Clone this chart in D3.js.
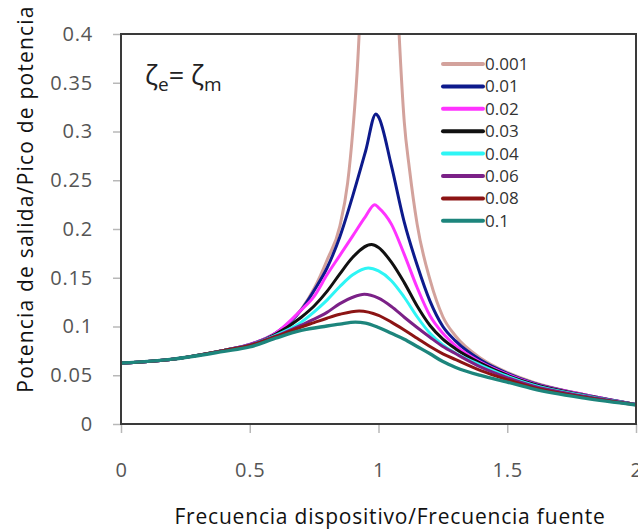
<!DOCTYPE html>
<html>
<head>
<meta charset="utf-8">
<script src="https://cdn.jsdelivr.net/npm/d3@7"></script>
<style>
  body { margin: 0; background: #fff; }
  svg { display: block; }
</style>
</head>
<body>
<div id="chart"></div>
<script>
// damping ratios shown in the legend
const zetas = ["0.001", "0.01", "0.02", "0.03", "0.04", "0.06", "0.08", "0.1"];
const colors = ["#d3a29c", "#0d1a8c", "#ff33ff", "#111111", "#2ef5f5", "#7b2187", "#8c1414", "#1d857c"];

// curves: x = f_device/f_source, y = P/Ppeak
const x0001 = [0, 0.2, 0.4, 0.5, 0.6, 0.7, 0.75, 0.8, 0.85, 0.88, 0.9, 0.92, 0.94, 0.97, 1.0, 1.03, 1.06, 1.08, 1.1, 1.12, 1.15, 1.2, 1.25, 1.3, 1.4, 1.5, 1.6, 1.8, 2.0];
const y0001 = [0.0625, 0.0665, 0.0755, 0.0815, 0.093, 0.1175, 0.139, 0.168, 0.203, 0.247, 0.300, 0.375, 0.50, 0.9, 1.5, 0.9, 0.52, 0.40, 0.310, 0.262, 0.205, 0.148, 0.110, 0.090, 0.067, 0.053, 0.043, 0.030, 0.020];

const x001 = [0, 0.2, 0.4, 0.5, 0.6, 0.7, 0.75, 0.8, 0.85, 0.9, 0.95, 0.99, 1.0, 1.05, 1.1, 1.15, 1.2, 1.25, 1.3, 1.4, 1.5, 1.6, 1.8, 2.0];
const y001 = [0.0625, 0.0665, 0.0755, 0.0815, 0.093, 0.117, 0.137, 0.160, 0.192, 0.234, 0.280, 0.318, 0.315, 0.265, 0.207, 0.163, 0.126, 0.100, 0.085, 0.065, 0.052, 0.042, 0.030, 0.020];

const x002 = [0, 0.2, 0.4, 0.5, 0.6, 0.7, 0.75, 0.8, 0.85, 0.9, 0.95, 0.985, 1.0, 1.05, 1.1, 1.15, 1.2, 1.25, 1.3, 1.4, 1.5, 1.6, 1.8, 2.0];
const y002 = [0.0625, 0.0665, 0.0755, 0.0815, 0.093, 0.117, 0.131, 0.153, 0.173, 0.193, 0.213, 0.225, 0.222, 0.205, 0.174, 0.140, 0.111, 0.093, 0.080, 0.063, 0.051, 0.0415, 0.030, 0.020];

const x003 = [0, 0.2, 0.4, 0.5, 0.6, 0.7, 0.75, 0.8, 0.85, 0.9, 0.973, 1.0, 1.05, 1.1, 1.15, 1.2, 1.25, 1.3, 1.4, 1.5, 1.6, 1.8, 2.0];
const y003 = [0.0625, 0.0665, 0.0755, 0.081, 0.092, 0.1095, 0.121, 0.136, 0.154, 0.171, 0.184, 0.181, 0.166, 0.145, 0.121, 0.101, 0.087, 0.077, 0.062, 0.050, 0.041, 0.0295, 0.020];

const x004 = [0, 0.2, 0.4, 0.5, 0.6, 0.7, 0.75, 0.8, 0.85, 0.9, 0.96, 1.0, 1.05, 1.1, 1.15, 1.2, 1.25, 1.3, 1.4, 1.5, 1.6, 1.8, 2.0];
const y004 = [0.0625, 0.0665, 0.0755, 0.081, 0.091, 0.1045, 0.115, 0.127, 0.141, 0.153, 0.160, 0.157, 0.147, 0.130, 0.110, 0.093, 0.081, 0.0725, 0.060, 0.049, 0.040, 0.029, 0.020];

const x006 = [0, 0.2, 0.4, 0.5, 0.6, 0.7, 0.75, 0.8, 0.85, 0.9, 0.945, 1.0, 1.05, 1.1, 1.15, 1.2, 1.25, 1.3, 1.4, 1.5, 1.6, 1.8, 2.0];
const y006 = [0.0625, 0.0665, 0.0755, 0.081, 0.090, 0.1015, 0.1075, 0.1145, 0.1235, 0.130, 0.133, 0.129, 0.1205, 0.1095, 0.099, 0.089, 0.0795, 0.072, 0.058, 0.0475, 0.039, 0.0285, 0.020];

const x008 = [0, 0.2, 0.4, 0.5, 0.6, 0.7, 0.75, 0.8, 0.85, 0.925, 1.0, 1.05, 1.1, 1.15, 1.2, 1.25, 1.3, 1.4, 1.5, 1.6, 1.8, 2.0];
const y008 = [0.0625, 0.0665, 0.0755, 0.0805, 0.0895, 0.0995, 0.104, 0.1085, 0.1125, 0.116, 0.1115, 0.1045, 0.0965, 0.088, 0.0795, 0.072, 0.066, 0.0545, 0.0455, 0.0375, 0.0275, 0.0197];

const x01 = [0, 0.2, 0.4, 0.5, 0.6, 0.7, 0.8, 0.85, 0.91, 0.95, 1.0, 1.05, 1.1, 1.15, 1.2, 1.25, 1.3, 1.4, 1.5, 1.6, 1.8, 2.0];
const y01 = [0.0625, 0.0665, 0.0745, 0.079, 0.088, 0.096, 0.1005, 0.1025, 0.1045, 0.1035, 0.099, 0.093, 0.087, 0.0795, 0.072, 0.064, 0.058, 0.0495, 0.043, 0.036, 0.0265, 0.0195];

const xTicks = [0, 0.5, 1, 1.5, 2];
const yTicks = [0, 0.05, 0.1, 0.15, 0.2, 0.25, 0.3, 0.35, 0.4];

const seriesX = [x0001, x001, x002, x003, x004, x006, x008, x01];
const seriesY = [y0001, y001, y002, y003, y004, y006, y008, y01];

const width = 638, height = 529;
const margin = { top: 34, right: 2, bottom: 105, left: 121 };

const svg = d3.select("#chart").append("svg")
    .attr("width", width)
    .attr("height", height);

const xScale = d3.scaleLinear()
    .domain([0, 2])
    .range([margin.left, width - margin.right]);

const yScale = d3.scaleLinear()
    .domain([0, 0.4])
    .range([height - margin.bottom, margin.top]);

svg.append("clipPath").attr("id", "plotclip")
    .append("rect")
    .attr("x", margin.left)
    .attr("y", margin.top)
    .attr("width", width - margin.right - margin.left)
    .attr("height", height - margin.bottom - margin.top);

// axes with outside ticks only
const xAxis = svg.append("g")
    .attr("transform", `translate(0,${height - margin.bottom})`)
    .call(d3.axisBottom(xScale).tickValues(xTicks).tickSize(9).tickPadding(30).tickFormat(d3.format("")));

const yAxis = svg.append("g")
    .attr("transform", `translate(${margin.left},0)`)
    .call(d3.axisLeft(yScale).tickValues(yTicks).tickSize(8).tickPadding(20).tickFormat(d3.format("")));

[xAxis, yAxis].forEach(g => {
    g.select(".domain").remove();
    g.selectAll(".tick line").attr("stroke", "#b8b8b8").attr("stroke-width", 1.5);
    g.selectAll(".tick text")
        .attr("fill", "#555")
        .style("font-family", "'Open Sans', sans-serif")
        .style("font-size", "20px")
        .style("letter-spacing", "0.8px");
});

// curves
const line = d3.line()
    .x(d => xScale(d[0]))
    .y(d => yScale(d[1]))
    .curve(d3.curveMonotoneX);

const curves = svg.append("g").attr("clip-path", "url(#plotclip)");
zetas.forEach((z, i) => {
    const pts = seriesX[i].map((x, j) => [x, seriesY[i][j]]);
    curves.append("path")
        .datum(pts)
        .attr("fill", "none")
        .attr("stroke", colors[i])
        .attr("stroke-width", i === 7 ? 3.4 : 3)
        .attr("stroke-linejoin", "round")
        .attr("d", line);
});

// plot frame
svg.append("rect")
    .attr("x", margin.left)
    .attr("y", margin.top)
    .attr("width", width - margin.right - margin.left)
    .attr("height", height - margin.bottom - margin.top)
    .attr("fill", "none")
    .attr("stroke", "#3a3a3a")
    .attr("stroke-width", 2);

// legend
const legend = svg.append("g").attr("transform", "translate(443,64)");
zetas.forEach((z, i) => {
    const row = legend.append("g").attr("transform", `translate(0,${i * 22.4})`);
    row.append("line")
        .attr("x1", 0).attr("x2", 40)
        .attr("stroke", colors[i])
        .attr("stroke-width", 4)
        .attr("stroke-linecap", "round");
    row.append("text")
        .attr("x", 42).attr("y", 6)
        .attr("fill", "#333")
        .style("font-family", "'Open Sans', sans-serif")
        .style("font-size", "17px")
        .text(z);
});

// zeta_e = zeta_m annotation
const note = svg.append("text")
    .attr("x", 145).attr("y", 85)
    .attr("fill", "#222")
    .style("font-family", "'Open Sans', sans-serif")
    .style("font-size", "27px");
note.append("tspan").text("ζ");
note.append("tspan").attr("dy", 6).style("font-size", "19px").text("e");
note.append("tspan").attr("dy", -6).text("= ζ");
note.append("tspan").attr("dy", 6).style("font-size", "19px").text("m");

// axis titles
svg.append("text")
    .attr("x", 390).attr("y", 524)
    .attr("text-anchor", "middle")
    .attr("fill", "#111")
    .style("font-family", "'Open Sans', sans-serif")
    .style("font-size", "21px")
    .style("letter-spacing", "0.8px")
    .text("Frecuencia dispositivo/Frecuencia fuente");

svg.append("text")
    .attr("transform", "translate(33,199) rotate(-90)")
    .attr("text-anchor", "middle")
    .attr("fill", "#111")
    .style("font-family", "'Open Sans', sans-serif")
    .style("font-size", "21px")
    .style("letter-spacing", "1.2px")
    .text("Potencia de salida/Pico de potencia");
</script>
</body>
</html>
